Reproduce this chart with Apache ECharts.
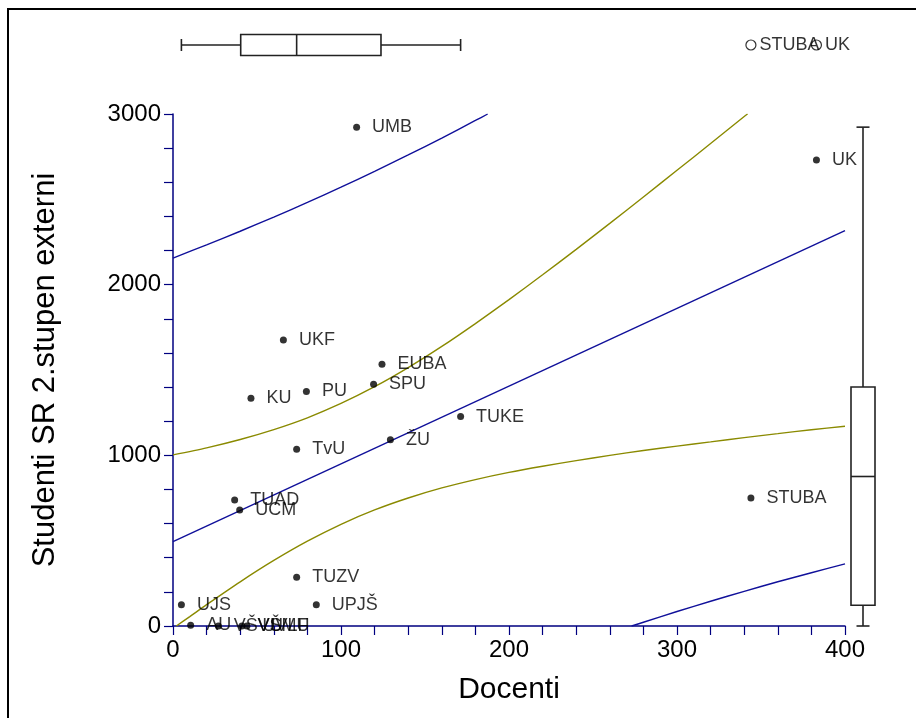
<!DOCTYPE html>
<html>
<head>
<meta charset="utf-8">
<title>Docenti vs. Studenti SR 2.stupen externi</title>
<script src="https://cdn.jsdelivr.net/npm/echarts@6/dist/echarts.min.js"></script>
<style>
  html, body { margin: 0; padding: 0; background: #fff; }
  #chart { width: 916px; height: 718px; }
</style>
</head>
<body>
<div id="chart"></div>
<script>
// Universities: number of docents vs. external 2nd-degree students
const universities = ['UMB', 'UK', 'UKF', 'EUBA', 'SPU', 'PU', 'KU', 'TvU', 'ŽU', 'TUKE',
                      'TUAD', 'UCM', 'STUBA', 'TUZV', 'UPJŠ', 'UJS', 'AU', 'VŠVU', 'VŠMU', 'UVLF'];
const docenti  = [109.3, 383, 65.7, 124.4, 119.4, 79.4, 46.4, 73.6, 129.4, 171.2,
                  36.7, 39.7, 344, 73.6, 85.3, 5, 10.5, 27, 41, 44];
const studenti = [2923, 2730, 1676, 1533, 1417, 1374, 1334, 1036, 1092, 1227,
                  738, 679, 750, 285, 125, 125, 5, 0, 0, 0];

// Marginal box plots: [min whisker, Q1, median, Q3, max whisker]
const docentiBox  = [5, 40.3, 73.6, 123.8, 171.2];
const studentiBox = [0, 122, 876, 1400, 2923];

// Fitted regression line (end points)
const fitX = [0, 400];
const fitY = [494, 2316];

// 95% confidence band of the mean (olive)
const ciUpperX = [0, 20, 40, 60, 80, 100, 120, 140, 160, 180, 200, 220, 240, 260, 280, 300, 320, 340, 342];
const ciUpperY = [1003, 1044, 1093, 1151, 1220, 1304, 1402, 1514, 1638, 1772, 1912, 2058, 2207, 2359, 2514, 2670, 2827, 2985, 3000];
const ciLowerX = [2, 10, 20, 40, 60, 80, 100, 120, 140, 160, 180, 200, 220, 240, 260, 280, 300, 320, 340, 360, 380, 400];
const ciLowerY = [0, 55, 125, 259, 384, 497, 596, 680, 750, 809, 858, 900, 936, 969, 1000, 1028, 1054, 1079, 1104, 1127, 1150, 1170];

// 95% prediction band (blue)
const piUpperX = [0, 20, 40, 60, 80, 100, 120, 140, 160, 180, 187.3];
const piUpperY = [2156, 2233, 2313, 2396, 2482, 2571, 2664, 2760, 2859, 2962, 3000];
const piLowerX = [273, 280, 300, 320, 340, 360, 380, 400];
const piLowerY = [0, 22, 85, 145, 203, 259, 312, 364];

// Axis ticks
const xTickStep = 20, xLabelStep = 100;
const yTickStep = 200, yLabelStep = 1000;

const FONT = "'Liberation Sans', Arial, sans-serif";
const NAVY = '#000080';
const BLUE = '#10109a';
const OLIVE = '#8a8a00';
const BOX_STROKE = '#222';

const zip = (xs, ys) => xs.map((x, i) => [x, ys[i]]);

const points = universities.map((name, i) => ({ name, value: [docenti[i], studenti[i]] }));
const xOutliers = points.filter(p => p.value[0] > docentiBox[4] || p.value[0] < docentiBox[0]);

// Horizontal box plot drawn along the docent scale
function renderHBox(params, api) {
  const v = [0, 1, 2, 3, 4].map(i => api.value(i));
  const c = v.map(val => api.coord([val, 0]));
  const y = c[0][1];
  const h = 10.5, cap = 6;
  const s = { stroke: BOX_STROKE, lineWidth: 1.6, fill: null };
  return {
    type: 'group',
    children: [
      { type: 'line', shape: { x1: c[0][0], y1: y, x2: c[1][0], y2: y }, style: s },
      { type: 'line', shape: { x1: c[3][0], y1: y, x2: c[4][0], y2: y }, style: s },
      { type: 'line', shape: { x1: c[0][0], y1: y - cap, x2: c[0][0], y2: y + cap }, style: s },
      { type: 'line', shape: { x1: c[4][0], y1: y - cap, x2: c[4][0], y2: y + cap }, style: s },
      { type: 'rect', shape: { x: c[1][0], y: y - h, width: c[3][0] - c[1][0], height: 2 * h },
        style: { stroke: BOX_STROKE, lineWidth: 1.6, fill: '#fff' } },
      { type: 'line', shape: { x1: c[2][0], y1: y - h, x2: c[2][0], y2: y + h }, style: s }
    ]
  };
}

// Vertical box plot drawn along the student scale
function renderVBox(params, api) {
  const v = [0, 1, 2, 3, 4].map(i => api.value(i));
  const c = v.map(val => api.coord([0, val]));
  const x = c[0][0];
  const w = 12, cap = 6.5;
  const s = { stroke: BOX_STROKE, lineWidth: 1.6, fill: null };
  return {
    type: 'group',
    children: [
      { type: 'line', shape: { x1: x, y1: c[0][1], x2: x, y2: c[1][1] }, style: s },
      { type: 'line', shape: { x1: x, y1: c[3][1], x2: x, y2: c[4][1] }, style: s },
      { type: 'line', shape: { x1: x - cap, y1: c[0][1], x2: x + cap, y2: c[0][1] }, style: s },
      { type: 'line', shape: { x1: x - cap, y1: c[4][1], x2: x + cap, y2: c[4][1] }, style: s },
      { type: 'rect', shape: { x: x - w, y: c[3][1], width: 2 * w, height: c[1][1] - c[3][1] },
        style: { stroke: BOX_STROKE, lineWidth: 1.6, fill: '#fff' } },
      { type: 'line', shape: { x1: x - w, y1: c[2][1], x2: x + w, y2: c[2][1] }, style: s }
    ]
  };
}

const bandLine = (data, color) => ({
  type: 'line',
  data,
  xAxisIndex: 0, yAxisIndex: 0,
  showSymbol: false,
  smooth: 0.25,
  clip: true,
  silent: true,
  lineStyle: { color, width: 1.4 },
  z: 2
});

const chart = echarts.init(document.getElementById('chart'), null, { renderer: 'canvas' });

chart.setOption({
  backgroundColor: '#fff',
  animation: false,
  textStyle: { fontFamily: FONT },
  graphic: [{
    type: 'polyline',
    shape: { points: [[8, 718], [8, 9], [916, 9]] },
    style: { stroke: '#000', lineWidth: 2, fill: null },
    silent: true
  }],
  grid: [
    { left: 173, top: 114, width: 672, height: 512 },
    { left: 173, top: 30, width: 672, height: 30 },
    { left: 843, top: 114, width: 40, height: 512 }
  ],
  xAxis: [
    {
      gridIndex: 0, type: 'value', min: 0, max: 400, interval: xTickStep,
      name: 'Docenti', nameLocation: 'middle', nameGap: 49,
      nameTextStyle: { fontSize: 30, color: '#000', fontFamily: FONT },
      axisLine: { show: true, onZero: false, lineStyle: { color: NAVY, width: 1.5 } },
      axisTick: { show: true, length: 9, lineStyle: { color: NAVY, width: 1.2 } },
      axisLabel: {
        margin: 12, fontSize: 24, color: '#000', fontFamily: FONT,
        formatter: v => (v % xLabelStep === 0 ? String(v) : '')
      },
      splitLine: { show: false }
    },
    { gridIndex: 1, type: 'value', min: 0, max: 400, show: false },
    { gridIndex: 2, type: 'value', min: -1, max: 1, show: false }
  ],
  yAxis: [
    {
      gridIndex: 0, type: 'value', min: 0, max: 3000, interval: yTickStep,
      name: 'Studenti SR 2.stupen externi', nameLocation: 'middle', nameGap: 112,
      nameTextStyle: { fontSize: 31, color: '#000', fontFamily: FONT },
      axisLine: { show: true, onZero: false, lineStyle: { color: NAVY, width: 1.5 } },
      axisTick: { show: true, length: 9, lineStyle: { color: NAVY, width: 1.2 } },
      axisLabel: {
        margin: 12, fontSize: 24, color: '#000', fontFamily: FONT,
        formatter: v => (v % yLabelStep === 0 ? String(v) : '')
      },
      splitLine: { show: false }
    },
    { gridIndex: 1, type: 'value', min: -1, max: 1, show: false },
    { gridIndex: 2, type: 'value', min: 0, max: 3000, show: false }
  ],
  series: [
    bandLine(zip(piUpperX, piUpperY), BLUE),
    bandLine(zip(piLowerX, piLowerY), BLUE),
    bandLine(zip(ciUpperX, ciUpperY), OLIVE),
    bandLine(zip(ciLowerX, ciLowerY), OLIVE),
    bandLine(zip(fitX, fitY), BLUE),
    {
      type: 'scatter',
      xAxisIndex: 0, yAxisIndex: 0,
      data: points,
      symbol: 'circle',
      symbolSize: 7,
      itemStyle: { color: '#000' },
      clip: false,
      z: 5,
      label: {
        show: true, position: 'right', distance: 12, offset: [0, 1],
        formatter: p => p.name,
        fontSize: 18, color: '#000', fontFamily: FONT
      },
      labelLayout: { hideOverlap: false }
    },
    {
      type: 'custom',
      xAxisIndex: 1, yAxisIndex: 1,
      data: [docentiBox],
      renderItem: renderHBox,
      silent: true
    },
    {
      type: 'scatter',
      xAxisIndex: 1, yAxisIndex: 1,
      data: xOutliers.map(p => ({ name: p.name, value: [p.value[0], 0] })),
      symbol: 'circle',
      symbolSize: 10,
      itemStyle: { color: '#fff', borderColor: '#000', borderWidth: 1.2 },
      clip: false,
      label: {
        show: true, position: 'right', distance: 3,
        formatter: p => p.name,
        fontSize: 18, color: '#000', fontFamily: FONT
      },
      labelLayout: { hideOverlap: false }
    },
    {
      type: 'custom',
      xAxisIndex: 2, yAxisIndex: 2,
      data: [studentiBox],
      renderItem: renderVBox,
      silent: true
    }
  ]
});
</script>
</body>
</html>
